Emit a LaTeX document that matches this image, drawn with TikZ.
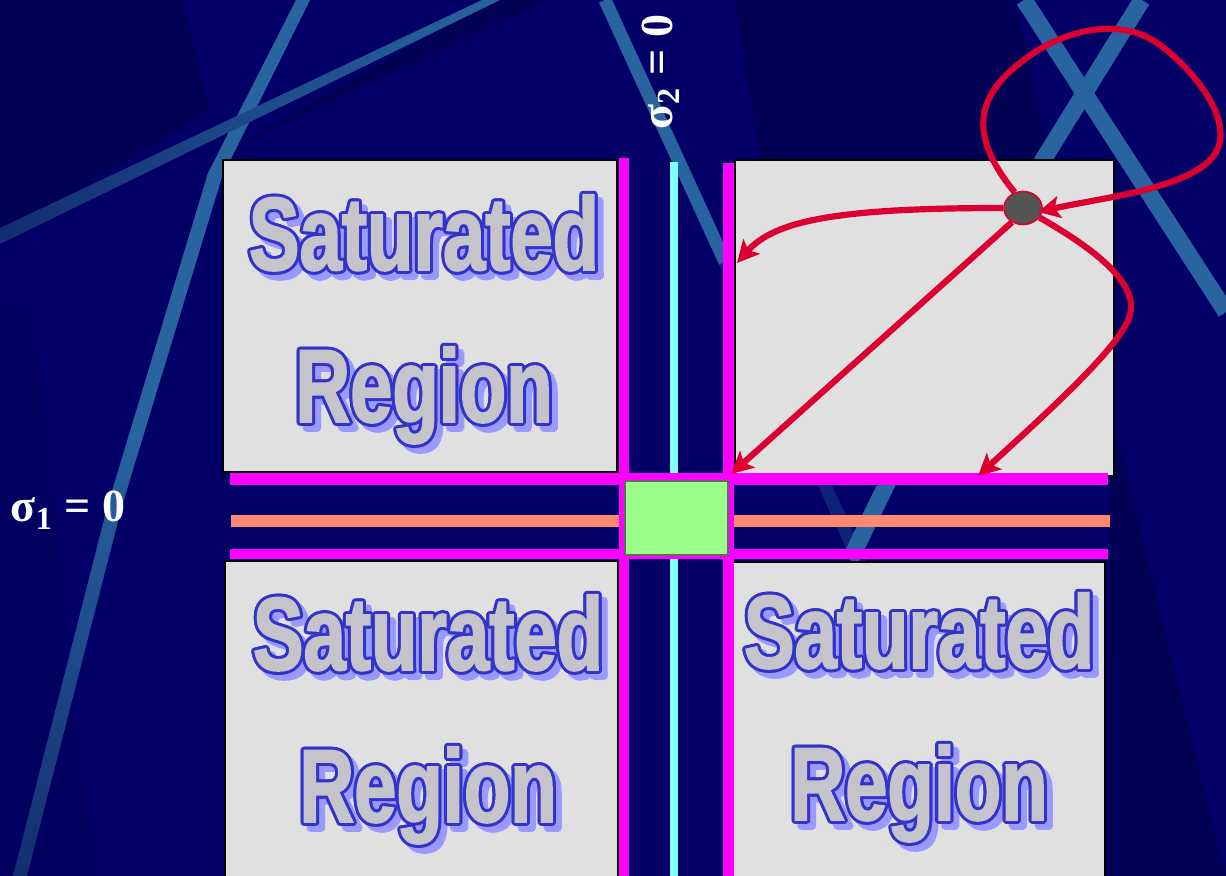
\documentclass[tikz,border=0pt]{standalone}
\usepackage{fontspec}
\usetikzlibrary{arrows.meta,shapes.geometric}
\newfontfamily\satfont[FakeStretch=0.73,FakeBold=1.6]{Liberation Sans Bold}
\newfontfamily\sigfont{Liberation Serif Bold}
\definecolor{bg}{RGB}{2,0,102}
\definecolor{bgdark}{RGB}{0,0,84}
\definecolor{stripe}{RGB}{40,100,160}
\definecolor{stripedark}{RGB}{20,45,115}
\definecolor{mag}{RGB}{255,0,255}
\definecolor{cyanl}{RGB}{128,255,255}
\definecolor{salmon}{RGB}{255,136,112}
\definecolor{greenbox}{RGB}{153,255,136}
\definecolor{boxgray}{RGB}{224,224,224}
\definecolor{redc}{RGB}{220,0,48}
\definecolor{outl}{RGB}{51,51,204}
\definecolor{shad}{RGB}{153,153,255}
\definecolor{fillg}{RGB}{196,196,202}
\tikzset{
  satbase/.style={anchor=base,inner sep=0pt,font=\satfont\fontsize{52pt}{52pt}\selectfont},
  satshadow/.style={satbase,text=shad},
  satline/.style={satbase,text=outl},
  satfill/.style={satbase,text=fillg},
  satbox/.style={fill=boxgray,draw=black,line width=0.7pt},
  bar/.style={fill=mag},
  siglabel/.style={text=white,inner sep=0pt,anchor=base,font=\sigfont\fontsize{23pt}{23pt}\selectfont},
  redarrow/.style={draw=redc,line width=3.1pt,-{Stealth[length=11pt,width=11pt,inset=2.5pt]}},
  stripeline/.style={draw=stripe,line cap=butt}
}
\newcommand\satword[4]{%
  \foreach \a [count=\k] in {0,45,...,315}{%
    \node[satshadow,xshift={3pt+1.5pt*cos(\a)},yshift={-3pt+1.5pt*sin(\a)}] (#1-s\k) at (#2,#3) {#4};}
  \foreach \a [count=\k] in {0,22.5,...,337.5}{%
    \node[satline,xshift={1.5pt*cos(\a)},yshift={1.5pt*sin(\a)}] (#1-o\k) at (#2,#3) {#4};}
  \node[satfill] (#1) at (#2,#3) {#4};}
\begin{document}
\begin{tikzpicture}[x=0.5pt,y=-0.5pt]
\useasboundingbox (0,0) rectangle (1226,876);
\clip (0,0) rectangle (1226,876);
% background
\fill[bg] (0,0) rectangle (1226,876);
\fill[bgdark] (0,0) -- (183,0) -- (210,110) -- (0,238) -- cycle;
\fill[bgdark] (490,0) -- (548,0) -- (230,150) -- cycle;
\fill[bgdark] (735,0) -- (1015,0) -- (1050,160) -- (760,160) -- cycle;
\fill[bgdark] (1110,410) -- (1226,876) -- (1108,876) -- cycle;
\fill[bgdark!35!bg] (0,300) -- (30,300) -- (95,876) -- (0,876) -- cycle;
% stripes
\shade[top color=stripe,bottom color=stripedark,middle color=stripe]
  (296,0) -- (310,0) -- (222,177) -- (122,506) -- (27,876) -- (13,876) -- (108,504) -- (208,173) -- cycle;
\shade[left color=stripedark,middle color=stripe,right color=stripe]
  (0,228) -- (482,0) -- (500,0) -- (0,244) -- cycle;
\draw[stripeline,line width=6.5pt] (605,0) -- (725,262);
\draw[stripeline,line width=6.5pt,draw opacity=0.35] (725,262) -- (1000,876);
\draw[stripeline,line width=8.5pt] (1142,0) -- (1043,160) -- (850,560);
\draw[stripeline,line width=8.5pt] (1024,0) -- (1226,312);
% boxes
\draw[satbox] (223,160) rectangle (617,472);
\draw[satbox] (735,160) rectangle (1114,476);
\draw[satbox] (225,561) rectangle (618,880);
\draw[satbox] (732,562) rectangle (1105,880);
% texts
\satword{tlA}{424}{270}{Saturated}
\satword{tlB}{424}{422}{Region}
\satword{blA}{428}{670}{Saturated}
\satword{blB}{428}{822}{Region}
\satword{brA}{919}{668}{Saturated}
\satword{brB}{919}{820}{Region}
% bars
\fill[salmon] (231,515) rectangle (1110,527);
\fill[cyanl] (670,162) rectangle (678,876);
\fill[bar] (619,158) rectangle (629,876);
\fill[bar] (722.5,163) rectangle (734,876);
\fill[bar] (230,473) rectangle (1108,485);
\fill[bar] (230,549) rectangle (1108,559);
\draw[fill=greenbox,draw=black!60,line width=1pt] (625,481) rectangle (728,555);
% labels
\node[siglabel] (s1) at (68,522) {σ\textsubscript{1} = 0};
\node[siglabel,rotate=90] (s2) at (672,72) {σ\textsubscript{2} = 0};
% dot and arrows
\node[ellipse,minimum width=19pt,minimum height=16.5pt,inner sep=0pt,fill=black!67,draw=redc,line width=0.8pt] (dot) at (1023,208) {};
\coordinate (e1) at (737,263);
\coordinate (e2) at (731,474);
\coordinate (e3) at (978,476);
\coordinate (e4) at (1038,212);
\draw[redarrow] (dot.180) .. controls (840,208) and (775,220) .. (e1);
\draw[redarrow] (dot.232) -- (e2);
\draw[redarrow] (dot.330) .. controls (1100,252) and (1138,285) .. (1130,315) .. controls (1122,345) and (1050,410) .. (e3);
\draw[redarrow] (dot.118) .. controls (972,140) and (972,100) .. (1020,63) .. controls (1060,30) and (1120,15) .. (1160,45) .. controls (1200,75) and (1240,130) .. (1210,160) .. controls (1180,190) and (1100,198) .. (e4);
\end{tikzpicture}
\end{document}
